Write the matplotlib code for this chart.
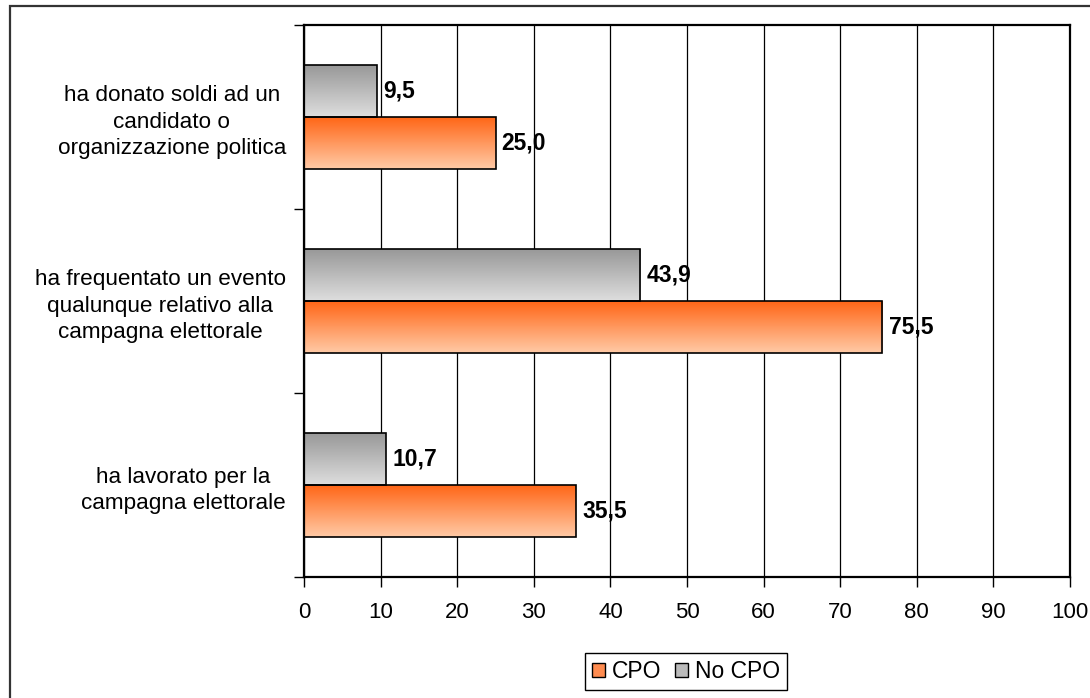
"""Horizontal bar chart: CPO vs No CPO participation (%)."""

import numpy as np
import matplotlib
matplotlib.use('Agg')
import matplotlib.pyplot as plt
from matplotlib.colors import LinearSegmentedColormap
from matplotlib.patches import Patch, Rectangle

plt.rcParams['font.family'] = ['Liberation Sans', 'DejaVu Sans']

# data, top to bottom
categories = ['ha donato soldi ad un\ncandidato o\norganizzazione politica',
              'ha frequentato un evento\nqualunque relativo alla\ncampagna elettorale',
              'ha lavorato per la\ncampagna elettorale']
cpo = [25.0, 75.5, 35.5]
no_cpo = [9.5, 43.9, 10.7]
series_labels = ['CPO', 'No CPO']
xticks = list(range(0, 101, 10))

# gradient colours (top, bottom)
orange_grad = ['#ff6414', '#ffcaa6']
gray_grad = ['#979797', '#dedede']


def gradient_fill(ax, patch, colors):
    """Fill a bar patch with a vertical gradient."""
    cmap = LinearSegmentedColormap.from_list('g', colors)
    x, y = patch.get_x(), patch.get_y()
    w, h = patch.get_width(), patch.get_height()
    grad = np.linspace(0, 1, 128).reshape(-1, 1)
    im = ax.imshow(grad, cmap=cmap, extent=[x, x + w, y, y + h],
                   aspect='auto', origin='upper', zorder=2,
                   interpolation='bicubic')
    im.set_clip_path(patch)


def main():
    """Main program called during execution."""

    # initialize figure
    fig = plt.figure(figsize=(10.9, 6.98), dpi=100)
    ax = fig.add_axes([304/1090, 1-577/698, 766/1090, 552/698])

    # outer chart border
    fig.patches.append(Rectangle(
        (9.5/1090, -0.1), 1.2, 1.1 - 6.5/698, transform=fig.transFigure,
        fill=False, edgecolor='#333333', linewidth=1.6, clip_on=False))

    # bars
    n = len(categories)
    ypos = np.arange(n)[::-1]
    h = 0.283
    bars_cpo = ax.barh(ypos - h/2, cpo, height=h, facecolor='none',
                       edgecolor='black', linewidth=1.2, zorder=3)
    bars_no = ax.barh(ypos + h/2, no_cpo, height=h, facecolor='none',
                      edgecolor='black', linewidth=1.2, zorder=3)
    for p in bars_cpo:
        gradient_fill(ax, p, orange_grad)
    for p in bars_no:
        gradient_fill(ax, p, gray_grad)

    # value labels
    for bars, vals in ((bars_cpo, cpo), (bars_no, no_cpo)):
        for p, v in zip(bars, vals):
            ax.annotate(f'{v:.1f}'.replace('.', ','),
                        (v, p.get_y() + p.get_height()/2),
                        xytext=(4.5, 0), textcoords='offset points',
                        ha='left', va='center', fontsize=16.5,
                        fontweight='bold', zorder=4)

    # axes properties
    ax.set_xlim(0, 100)
    ax.set_ylim(-0.5, n - 0.5)
    ax.set_xticks(xticks)
    ax.set_xticklabels([str(t) for t in xticks], fontsize=16)
    ax.tick_params(axis='x', length=7, width=1, pad=11, direction='out')
    ax.set_yticks(np.arange(-0.5, n, 1.0))
    ax.set_yticklabels([])
    ax.tick_params(axis='y', which='major', length=7, width=1,
                   direction='out')
    ax.set_yticks(ypos, minor=True)
    ax.set_yticklabels(categories, minor=True, fontsize=16.2,
                       multialignment='center', linespacing=1.32)
    ax.tick_params(axis='y', which='minor', length=0, pad=13)
    ax.grid(axis='x', color='black', linewidth=0.9, zorder=1)
    ax.set_axisbelow(True)
    for spine in ax.spines.values():
        spine.set_linewidth(1.6)
        spine.set_color('black')

    # legend
    handles = [Patch(facecolor='#ff8c50', edgecolor='black'),
               Patch(facecolor='#bbbbbb', edgecolor='black')]
    leg = fig.legend(handles, series_labels, loc='center', ncol=2,
                     bbox_to_anchor=(686/1090, 1 - 671.5/698),
                     fontsize=16.5, frameon=True, fancybox=False,
                     edgecolor='black', framealpha=1, handlelength=0.55,
                     handleheight=0.55, handletextpad=0.3,
                     columnspacing=0.6, borderpad=0.3)
    leg.get_frame().set_linewidth(1.0)

    # save figure
    fig.savefig('out.png', dpi=100)


if __name__ == '__main__':
    main()
